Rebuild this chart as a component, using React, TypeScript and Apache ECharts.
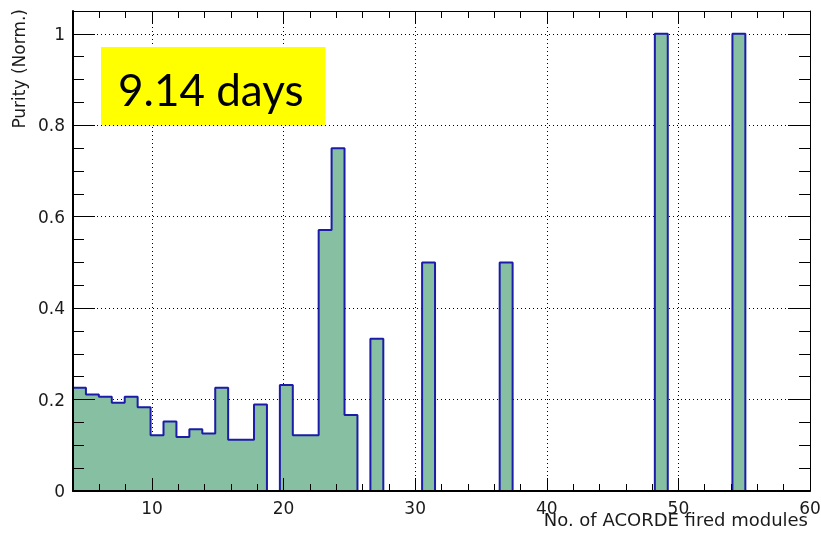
import React, { useEffect, useRef } from "react";
import * as echarts from "echarts";

// ---- data ----
const xMin = 4;
const xMax = 60;
const yMin = 0;
const yMax = 1.05;

// 57 equal-width bins spanning [xMin, xMax]
const binValues = [
  0.226, 0.211, 0.206, 0.193, 0.206, 0.183, 0.122, 0.152, 0.118, 0.135,
  0.126, 0.226, 0.112, 0.112, 0.189, 0, 0.232, 0.122, 0.122, 0.571,
  0.75, 0.166, 0, 0.333, 0, 0, 0, 0.5, 0, 0,
  0, 0, 0, 0.5, 0, 0, 0, 0, 0, 0,
  0, 0, 0, 0, 0, 1, 0, 0, 0, 0,
  0, 1, 0, 0, 0, 0, 0,
];

// tick spacing (major x ticks: automatic 10)
const xMinorStep = 2;
const yMajorStep = 0.2;
const yMinorStep = 0.05;
const yLastLabel = 1;

const xTitle = "No. of ACORDE fired modules";
const yTitle = "Purity (Norm.)";
const boxLabel = "9.14 days";

// ---- styles ----
const FONT = "DejaVu Sans";
const TEXT_COLOR = "#1a1a1a";
const FILL = "#86bfa2";
const OUTLINE = "#1c1ca8";

export default function App() {
  const ref = useRef<HTMLDivElement>(null);

  useEffect(() => {
    document.body.style.margin = "0";
    const chart = echarts.init(ref.current!, undefined, { renderer: "svg" });

    const binWidth = (xMax - xMin) / binValues.length;
    const stepData: number[][] = binValues.map((v, k) => [xMin + k * binWidth, v]);
    stepData.push([xMax, binValues[binValues.length - 1]]);

    const commonX = { type: "value", min: xMin, max: xMax, gridIndex: 0 };
    const commonY = { type: "value", min: yMin, max: yMax, gridIndex: 0 };

    const xFormatter = (v: number) => (v <= xMin ? "" : String(v));
    const yFormatter = (v: number) => (v > yLastLabel + 1e-6 ? "" : String(v));

    const tickAxis = (
      base: any,
      position: string,
      interval: number | undefined,
      len: number,
      lineWidth: number,
      formatter: ((v: number) => string) | null,
      extra: any = {}
    ) => ({
      ...base,
      ...(interval !== undefined ? { interval } : { splitNumber: 5 }),
      position,
      z: 5,
      axisLine: { show: lineWidth > 0, onZero: false, lineStyle: { color: "#000", width: lineWidth || 1 } },
      axisTick: { show: true, inside: true, length: len, lineStyle: { color: "#000", width: 1 } },
      axisLabel: formatter
        ? { show: true, formatter, fontFamily: FONT, fontSize: 17, color: TEXT_COLOR }
        : { show: false },
      splitLine: { show: false },
      minorTick: { show: false },
      ...extra,
    });

    const gridSplit = (base: any, position: string, interval: number | undefined) => ({
      ...base,
      ...(interval !== undefined ? { interval } : { splitNumber: 5 }),
      position,
      axisLine: { show: false, onZero: false },
      axisTick: { show: false },
      axisLabel: { show: false },
      splitLine: { show: true, lineStyle: { color: "#000", width: 1, type: [1, 3] } },
    });

    const option: any = {
      animation: false,
      title: [
        {
          text: boxLabel,
          left: 101,
          top: 47,
          backgroundColor: "#ffff00",
          padding: [20, 22, 14, 17],
          textStyle: { fontFamily: "Lato", fontSize: 44, fontWeight: "normal", color: "#000" },
        },
        {
          text: xTitle,
          right: 13,
          top: 510,
          padding: 0,
          textStyle: { fontFamily: FONT, fontSize: 18, fontWeight: "normal", color: TEXT_COLOR },
        },
      ],
      grid: { left: 73, right: 11, top: 11, bottom: 45, outerBoundsMode: "none" },
      xAxis: [
        gridSplit(commonX, "bottom", undefined),
        tickAxis(commonX, "bottom", undefined, 13, 2, xFormatter),
        tickAxis(commonX, "bottom", xMinorStep, 7, 0, null),
        tickAxis(commonX, "top", undefined, 13, 1, null),
        tickAxis(commonX, "top", xMinorStep, 7, 0, null),
      ],
      yAxis: [
        gridSplit(commonY, "left", yMajorStep),
        tickAxis(commonY, "left", yMajorStep, 22, 2, yFormatter, {
          name: yTitle,
          nameLocation: "end",
          nameRotate: 90,
          nameGap: 2,
          nameTextStyle: {
            fontFamily: FONT,
            fontSize: 17,
            color: TEXT_COLOR,
            align: "right",
            verticalAlign: "bottom",
            padding: [0, 0, 46, 0],
          },
        }),
        tickAxis(commonY, "left", yMinorStep, 11, 0, null),
        tickAxis(commonY, "right", yMajorStep, 22, 1, null),
        tickAxis(commonY, "right", yMinorStep, 11, 0, null),
      ],
      series: [
        {
          type: "line",
          step: "end",
          symbol: "none",
          data: stepData,
          lineStyle: { color: OUTLINE, width: 2 },
          areaStyle: { color: FILL, opacity: 1 },
        },
      ],
    };

    chart.setOption(option);
    return () => chart.dispose();
  }, []);

  return <div ref={ref} style={{ position: "fixed", left: 0, top: 0, width: 821, height: 536 }} />;
}
